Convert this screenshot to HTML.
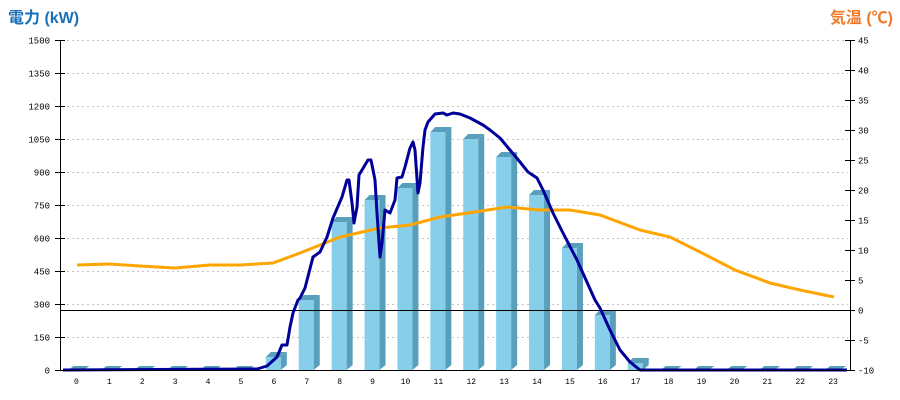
<!DOCTYPE html>
<html><head><meta charset="utf-8"><style>body{margin:0;background:#fff}svg{display:block}</style></head><body>
<svg width="900" height="400" xmlns="http://www.w3.org/2000/svg" font-family="Liberation Mono, monospace">
<text x="8" y="23" font-family="Liberation Sans, Noto Sans CJK JP, sans-serif" font-size="16" font-weight="bold" fill="#1a70b8">電力 (kW)</text>
<text x="893" y="23" text-anchor="end" font-family="Liberation Sans, Noto Sans CJK JP, sans-serif" font-size="16" font-weight="bold" fill="#ee7a2a">気温 (℃)</text>
<g id="grid" stroke="#c4c4c4" stroke-dasharray="2,3" stroke-width="1">
</g>
<g id="bars"></g>
<line x1="60" y1="310.5" x2="850" y2="310.5" stroke="#000"/>
<polyline fill="none" stroke="#ffa500" stroke-width="3" points="77,265 110,264 140,266 175,268 210,265 240,265 273,263 300,253 340,237 380,228 410,225 440,217 475,212 507,207 540,210 570,210 600,215 640,230 670,237 700,252 735,270 770,283 800,290 834,297"/>
<polyline fill="none" stroke="#000099" stroke-width="3" stroke-linejoin="round" points="63,370 257,369 267,366 277,357 282,345 287,345 290,327 293,313 298,300 300,298 305,288 313,257 320,252 327,237 333,218 342,197 347,180 349,180 352,203 354,223 357,207 359,175 368,160 371,160 375,180 377,213 380,257 382,243 385,210 390,213 395,200 397,178 402,177 405,167 410,148 413,142 415,150 418,193 420,183 423,147 425,130 428,122 435,114 443,113 447,115 453,113 460,114 470,118 483,125 490,130 500,138 510,150 520,162 528,172 537,178 543,190 553,213 563,233 577,260 595,300 600,308 610,330 620,350 630,362 640,370 847,370"/>
<line x1="60.5" y1="40" x2="60.5" y2="370" stroke="#000"/>
<line x1="850.5" y1="40" x2="850.5" y2="370" stroke="#000"/>
<line x1="60" y1="370.5" x2="850" y2="370.5" stroke="#000"/>
<g id="ticks" font-size="9" fill="#000"></g>
<script>
var ns="http://www.w3.org/2000/svg";
function el(p,t,a,txt){var e=document.createElementNS(ns,t);for(var k in a)e.setAttribute(k,a[k]);if(txt!=null)e.textContent=txt;p.appendChild(e);return e;}
var g=document.getElementById('grid'),tk=document.getElementById('ticks'),b=document.getElementById('bars');
for(var i=0;i<=10;i++){var y=370-i*33+0.5;
 if(i>0)el(g,'line',{x1:62,y1:y,x2:848,y2:y});
 el(tk,'line',{x1:55,y1:y,x2:65,y2:y,stroke:'#000'});
 el(tk,'text',{x:50,y:y+3,'text-anchor':'end'},String(i*150));
}
for(var i=0;i<=11;i++){var y=370-i*30+0.5;
 el(tk,'line',{x1:845,y1:y,x2:855,y2:y,stroke:'#000'});
 el(tk,'text',{x:858,y:y+3},String(-10+i*5));
}
var tops=[370,370,370,370,370,370,357,300,222,200,188,132,139,157,195,248,315,363,370,370,370,370,370,370];
for(var i=0;i<24;i++){var c=60+32.9*(i+0.5),x0=c-8,x1=c+7,x2=c+13,t=tops[i];
 el(tk,'text',{x:c,y:384,'text-anchor':'middle','font-size':'8'},String(i));
 if(t<370){el(b,'rect',{x:x0,y:t,width:x1-x0,height:370-t,fill:'#87ceeb'});
  el(b,'polygon',{points:x1+','+t+' '+x2+','+(t-5)+' '+x2+','+(370-5)+' '+x1+','+370,fill:'#579fba'});
  el(b,'polygon',{points:x0+','+t+' '+(x0+5)+','+(t-5)+' '+x2+','+(t-5)+' '+x1+','+t,fill:'#579fba'});}
 else el(b,'polygon',{points:x0+',370 '+(x0+5)+',366 '+x2+',366 '+x1+',370',fill:'#579fba'});
}
</script>
</svg>
</body></html>
